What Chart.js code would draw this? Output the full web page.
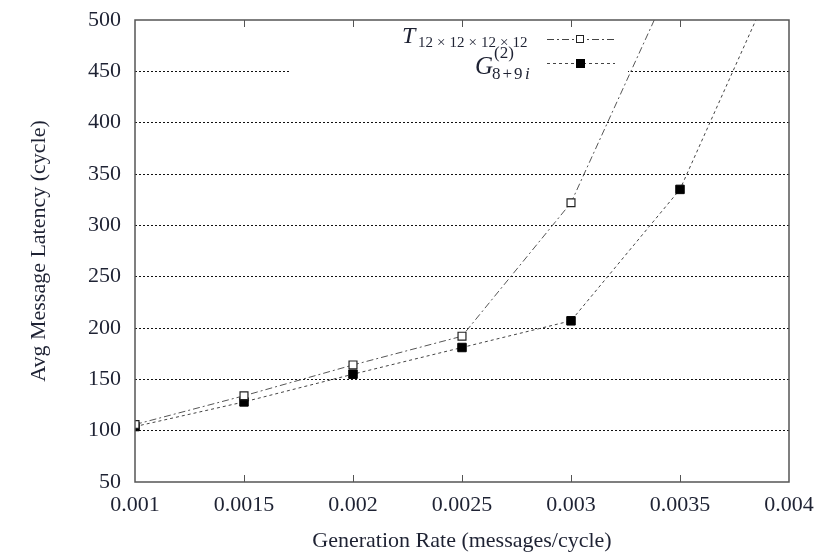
<!DOCTYPE html>
<html>
<head>
<meta charset="utf-8">
<script src="https://cdn.jsdelivr.net/npm/chart.js@4.4.1/dist/chart.umd.min.js"></script>
<style>
  html, body { margin: 0; padding: 0; background: #fff; }
  #wrap { width: 827px; height: 556px; }
</style>
</head>
<body>
<div id="wrap"><canvas id="latency"></canvas></div>
<script>
var rates = [0.001, 0.0015, 0.002, 0.0025, 0.003, 0.0035, 0.004];
var torusLatency = [106, 134, 164, 192, 322, 555, null];
var gaussLatency = [104, 128, 155, 181, 207, 335, 572];
var xTicks = [0.001, 0.0015, 0.002, 0.0025, 0.003, 0.0035, 0.004];
var yTicks = [50, 100, 150, 200, 250, 300, 350, 400, 450, 500];

var textColor = '#1e2233';
var serif = '"Liberation Serif", "DejaVu Serif", serif';

function toPoints(values) {
    var pts = [];
    for (var i = 0; i < rates.length; i++) {
        if (values[i] !== null) pts.push({x: rates[i], y: values[i]});
    }
    return pts;
}

// draw a list of text pieces with a gap after each one
function pieces(ctx, parts, x, y, gap) {
    parts.forEach(function (p) {
        ctx.fillText(p, x, y);
        x += ctx.measureText(p).width + gap;
    });
}

// blank the key area so the 450 grid line is broken like in gnuplot
var keyBox = {
    id: 'keyBox',
    beforeDatasetsDraw: function (chart) {
        var ctx = chart.ctx;
        ctx.save();
        ctx.fillStyle = '#fff';
        ctx.fillRect(290, 22, 338, 60);
        ctx.restore();
    },
    afterDraw: function (chart) {
        var ctx = chart.ctx;
        var a = chart.chartArea;
        var xs = chart.scales.x;
        ctx.save();
        // frame
        ctx.strokeStyle = '#555';
        ctx.lineWidth = 1.5;
        ctx.strokeRect(a.left, a.top, a.right - a.left, a.bottom - a.top);
        // inward ticks on bottom and top
        ctx.lineWidth = 1;
        ctx.beginPath();
        xTicks.slice(1, -1).forEach(function (v) {
            var px = Math.round(xs.getPixelForValue(v)) + 0.5;
            ctx.moveTo(px, a.bottom);
            ctx.lineTo(px, a.bottom - 7);
            ctx.moveTo(px, a.top);
            ctx.lineTo(px, a.top + 7);
        });
        ctx.stroke();

        // key text
        ctx.fillStyle = textColor;
        ctx.textBaseline = 'alphabetic';
        ctx.textAlign = 'left';
        ctx.font = 'italic 24px ' + serif;
        ctx.fillText('T', 402, 43);
        ctx.font = '15px ' + serif;
        pieces(ctx, ['12', '×', '12', '×', '12', '×', '12'], 418, 47, 4);

        ctx.font = 'italic 25px ' + serif;
        ctx.fillText('G', 475, 74);
        ctx.font = '17px ' + serif;
        ctx.fillText('(2)', 494, 58);
        ctx.font = '17px ' + serif;
        pieces(ctx, ['8', '+', '9'], 492, 79, 2);
        ctx.font = 'italic 17px ' + serif;
        ctx.fillText('i', 525, 79);

        // key samples
        ctx.strokeStyle = '#444';
        ctx.lineWidth = 1;
        ctx.setLineDash([7, 3, 2, 3]);
        ctx.beginPath();
        ctx.moveTo(547, 39.5);
        ctx.lineTo(615, 39.5);
        ctx.stroke();
        ctx.setLineDash([3, 3]);
        ctx.beginPath();
        ctx.moveTo(547, 63.5);
        ctx.lineTo(615, 63.5);
        ctx.stroke();
        ctx.setLineDash([]);
        ctx.fillStyle = '#fff';
        ctx.fillRect(576, 35, 8, 8);
        ctx.strokeStyle = '#222';
        ctx.strokeRect(576.5, 35.5, 7, 7);
        ctx.fillStyle = '#000';
        ctx.fillRect(576, 59, 9, 9);
        ctx.restore();
    }
};

const latency = document.getElementById('latency');
new Chart(latency, {
    type: 'line',
    data: {
        datasets: [{
            label: 'T',
            data: toPoints(torusLatency),
            borderColor: '#555',
            borderWidth: 1,
            borderDash: [7, 3, 2, 3],
            pointStyle: 'rect',
            pointRadius: 5.6,
            pointBackgroundColor: '#fff',
            pointBorderColor: '#222',
            pointBorderWidth: 1.2,
            tension: 0
        }, {
            label: 'G',
            data: toPoints(gaussLatency),
            borderColor: '#444',
            borderWidth: 1,
            borderDash: [3, 3],
            pointStyle: 'rect',
            pointRadius: 6,
            pointBackgroundColor: '#000',
            pointBorderColor: '#000',
            pointBorderWidth: 1,
            tension: 0
        }]
    },
    options: {
        responsive: true,
        maintainAspectRatio: false,
        animation: false,
        layout: { padding: { left: 0, top: 20, right: 38, bottom: 0 } },
        plugins: {
            legend: { display: false },
            tooltip: { enabled: false }
        },
        scales: {
            x: {
                type: 'linear',
                min: 0.001,
                max: 0.004,
                afterFit: function (scale) {
                    scale.height = 74;
                    scale.paddingLeft = 0;
                    scale.paddingRight = 0;
                },
                afterBuildTicks: function (scale) {
                    scale.ticks = xTicks.map(function (v) { return {value: v}; });
                },
                grid: { display: false, drawTicks: false },
                border: { display: false },
                ticks: {
                    color: textColor,
                    padding: 10,
                    maxRotation: 0,
                    font: { family: serif, size: 22 },
                    callback: function (v) { return String(Number(v.toFixed(4))); }
                },
                title: {
                    display: true,
                    text: 'Generation Rate (messages/cycle)',
                    color: textColor,
                    font: { family: serif, size: 22 },
                    padding: { top: 0, bottom: 2 }
                }
            },
            y: {
                min: 50,
                max: 500,
                afterFit: function (scale) {
                    scale.width = 135;
                    scale.paddingTop = 0;
                    scale.paddingBottom = 0;
                },
                afterBuildTicks: function (scale) {
                    scale.ticks = yTicks.map(function (v) { return {value: v}; });
                },
                grid: {
                    drawTicks: false,
                    color: function (c) {
                        var v = c.tick ? c.tick.value : 0;
                        return (v === 50 || v === 500) ? 'rgba(0,0,0,0)' : '#111';
                    },
                    lineWidth: 1
                },
                border: { display: false, dash: [2, 2] },
                ticks: {
                    color: textColor,
                    padding: 14,
                    font: { family: serif, size: 22 }
                },
                title: {
                    display: true,
                    text: 'Avg Message Latency (cycle)',
                    color: textColor,
                    font: { family: serif, size: 22 },
                    padding: { top: 26, bottom: 0 }
                }
            }
        }
    },
    plugins: [keyBox]
});
</script>
</body>
</html>
